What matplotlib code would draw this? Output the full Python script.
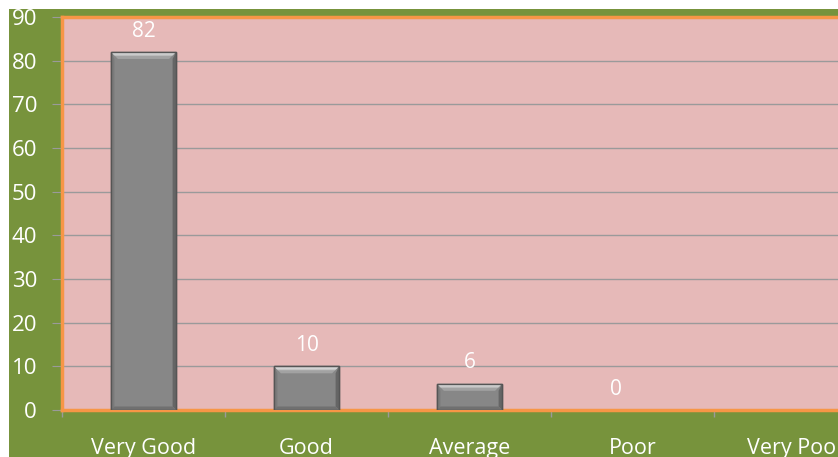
import matplotlib
matplotlib.use("Agg")
import matplotlib.pyplot as plt
from matplotlib.patches import Rectangle, Polygon

categories = ["Very Good", "Good", "Average", "Poor", "Very Poor"]
values = [82, 10, 6, 0, 0]
value_labels = ["82", "10", "6", "0", ""]
yticks = [0, 10, 20, 30, 40, 50, 60, 70, 80, 90]

W, H = 838, 457
fig = plt.figure(figsize=(W / 100, H / 100), dpi=100, facecolor="white")
plt.rcParams['font.family'] = ['Open Sans', 'DejaVu Sans']

green = "#77933C"
bg = Rectangle((9 / W, 0), 1, (H - 9) / H, transform=fig.transFigure,
               facecolor=green, edgecolor="none", zorder=-10)
fig.add_artist(bg)

left, right, bottom, top = 62, 877, 410, 17
ax = fig.add_axes([left / W, (H - bottom) / H, (right - left) / W, (bottom - top) / H])
ax.set_zorder(5)
ax.set_facecolor("#E6B9B8")
x = list(range(len(categories)))
bw = 0.4
ax.set_xlim(-0.5, len(categories) - 0.5)
ax.set_ylim(0, 90)

bars = ax.bar(x, values, width=bw, color="#878787", edgecolor="#5A5A5A", linewidth=1.0, zorder=3)
for b, v in zip(bars, values):
    if v == 0:
        b.set_visible(False)

# bevel (pixel sizes converted to data units)
px_x = (len(categories)) / (right - left)
px_y = 90 / (bottom - top)
bx, by = 7 * px_x, 7 * px_y
sx = 3.5 * px_x
for xi, v in zip(x, values):
    if v <= 0:
        continue
    x0, x1 = xi - bw / 2, xi + bw / 2
    # top bevel with light gradient
    ax.add_patch(Polygon([(x0, v), (x1, v), (x1 - bx, v - by), (x0 + bx, v - by)],
                         closed=True, facecolor="#A2A2A2", edgecolor="none", zorder=4))
    ax.add_patch(Polygon([(x0 + bx * 0.15, v - by * 0.1), (x1 - bx * 0.15, v - by * 0.1),
                          (x1 - bx * 0.55, v - by * 0.55), (x0 + bx * 0.55, v - by * 0.55)],
                         closed=True, facecolor="#C4C4C4", edgecolor="none", zorder=4))
    ax.add_patch(Polygon([(x0 + bx * 0.2, v - by * 0.15), (x1 - bx * 0.2, v - by * 0.15),
                          (x1 - bx * 0.35, v - by * 0.35), (x0 + bx * 0.35, v - by * 0.35)],
                         closed=True, facecolor="#D8D8D8", edgecolor="none", zorder=4))
    # left side
    ax.add_patch(Polygon([(x0, v), (x0 + sx, v - by), (x0 + sx, 3.5 * px_y), (x0, 0)],
                         closed=True, facecolor="#7A7A7A", edgecolor="none", zorder=4))
    # right side
    ax.add_patch(Polygon([(x1, v), (x1 - sx, v - by), (x1 - sx, 3.5 * px_y), (x1, 0)],
                         closed=True, facecolor="#656565", edgecolor="none", zorder=4))
    # bottom
    ax.add_patch(Polygon([(x0, 0), (x1, 0), (x1 - sx, 3.5 * px_y), (x0 + sx, 3.5 * px_y)],
                         closed=True, facecolor="#707070", edgecolor="none", zorder=4))
    ax.add_patch(Rectangle((x0, 0), bw, v, facecolor="none", edgecolor="#555555",
                           linewidth=1.0, zorder=5))

ax.set_yticks(yticks)
ax.yaxis.grid(True, color="#9A9A9A", linewidth=1.0, zorder=1)
ax.set_axisbelow(True)

orange = "#F79646"
for s in ["left", "bottom", "top"]:
    ax.spines[s].set_color(orange)
    ax.spines[s].set_linewidth(2.5)
ax.spines["right"].set_visible(False)

ax.tick_params(axis="y", colors="#9A9A9A", labelcolor="white", labelsize=16, length=7, pad=11)
ax.set_xticks(x)
ax.set_xticklabels(categories)
ax.tick_params(axis="x", which="major", length=0, labelcolor="white", labelsize=15.5, pad=20)
ax.set_xticks([i + 0.5 for i in range(-1, len(categories))], minor=True)
ax.tick_params(axis="x", which="minor", colors="#9A9A9A", length=5, width=1)

for xi, v, t in zip(x, values, value_labels):
    if t:
        dx = -0.1 if v == 0 else 0
        ax.annotate(t, (xi + dx, v), xytext=(0, 15), textcoords="offset points",
                    ha="center", va="center", color="white", fontsize=15)

fig.savefig("out.png", dpi=100, facecolor="white")
